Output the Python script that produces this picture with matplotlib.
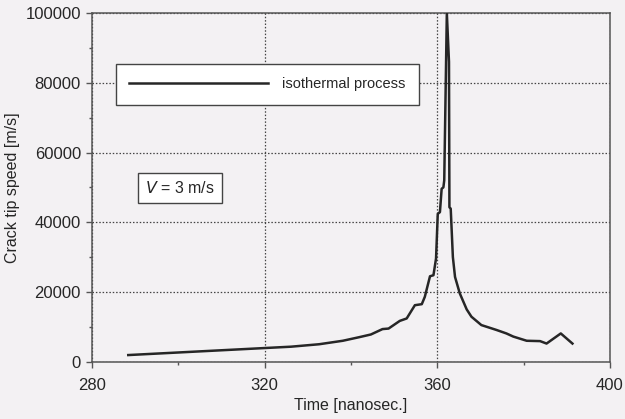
import numpy as np
import matplotlib.pyplot as plt
from matplotlib.ticker import MultipleLocator

plt.rcParams['font.family'] = ['Liberation Sans', 'DejaVu Sans']

# crack tip speed history, isothermal run
time = [288.4, 326.1, 332.6, 338.1, 341.8, 344.6, 347.3, 348.7, 351.3, 352.9,
        354.8, 356.4, 357.1, 358.3, 359.1, 359.7, 360.1, 360.6, 361.0, 361.4,
        361.6, 362.2, 362.7, 362.8, 363.1, 363.6, 364.1, 365.2, 366.8, 367.9,
        370.2, 373.7, 376.0, 377.6, 380.7, 383.8, 385.3, 388.6, 391.3]
speed = [1900, 4300, 5000, 6000, 7000, 7800, 9350, 9500, 11700, 12400,
         16200, 16500, 18600, 24500, 24800, 29600, 42400, 42900, 49600, 50000,
         52000, 100000, 86000, 44300, 43900, 30000, 24300, 19600, 15000, 12900,
         10500, 9100, 8100, 7200, 6000, 5900, 5200, 8100, 5200]

bg = '#f3f1f3'
ink = '#262626'

fig = plt.figure(figsize=(6.25, 4.19), dpi=100, facecolor=bg)
ax = fig.add_axes([0.1472, 0.1368, 0.8288, 0.832], facecolor=bg)

ax.plot(time, speed, color=ink, lw=1.8, label='isothermal process', zorder=3)

ax.set_xlim(280, 400)
ax.set_ylim(0, 100000)
ax.xaxis.set_major_locator(MultipleLocator(40))
ax.xaxis.set_minor_locator(MultipleLocator(20))
ax.yaxis.set_major_locator(MultipleLocator(20000))
ax.yaxis.set_minor_locator(MultipleLocator(10000))

ax.grid(True, which='major', color='#444444', ls=(0, (1.2, 1.5)), lw=0.9)
ax.tick_params(which='major', direction='out', length=4, width=1, color='#555555',
               labelsize=12, labelcolor=ink)
ax.tick_params(axis='x', which='major', pad=8)
ax.tick_params(axis='y', which='major', pad=4)
ax.tick_params(which='minor', direction='out', length=2.5, width=1, color='#555555')
for s in ax.spines.values():
    s.set_color('#555555')
    s.set_linewidth(1.1)

ax.set_xlabel('Time [nanosec.]', fontsize=11.5, color=ink, labelpad=3)
ax.set_ylabel('Crack tip speed [m/s]', fontsize=11.5, color=ink, labelpad=4)

leg = ax.legend(loc='upper left', bbox_to_anchor=(0.0463, 0.853), borderaxespad=0,
                fontsize=10.5, handlelength=9.5, handletextpad=1.0, borderpad=0.9,
                fancybox=False, framealpha=1, edgecolor='#444444')
leg.get_frame().set_facecolor('white')
leg.get_frame().set_linewidth(1.0)
for t in leg.get_texts():
    t.set_color(ink)

ax.text(0.170, 0.498, r'$\it{V}$ = 3 m/s', transform=ax.transAxes, fontsize=11.5,
        color=ink, ha='center', va='center',
        bbox=dict(boxstyle='square,pad=0.45', fc='white', ec='#444444', lw=1.0))

fig.savefig('out.png', dpi=100, facecolor=bg)
